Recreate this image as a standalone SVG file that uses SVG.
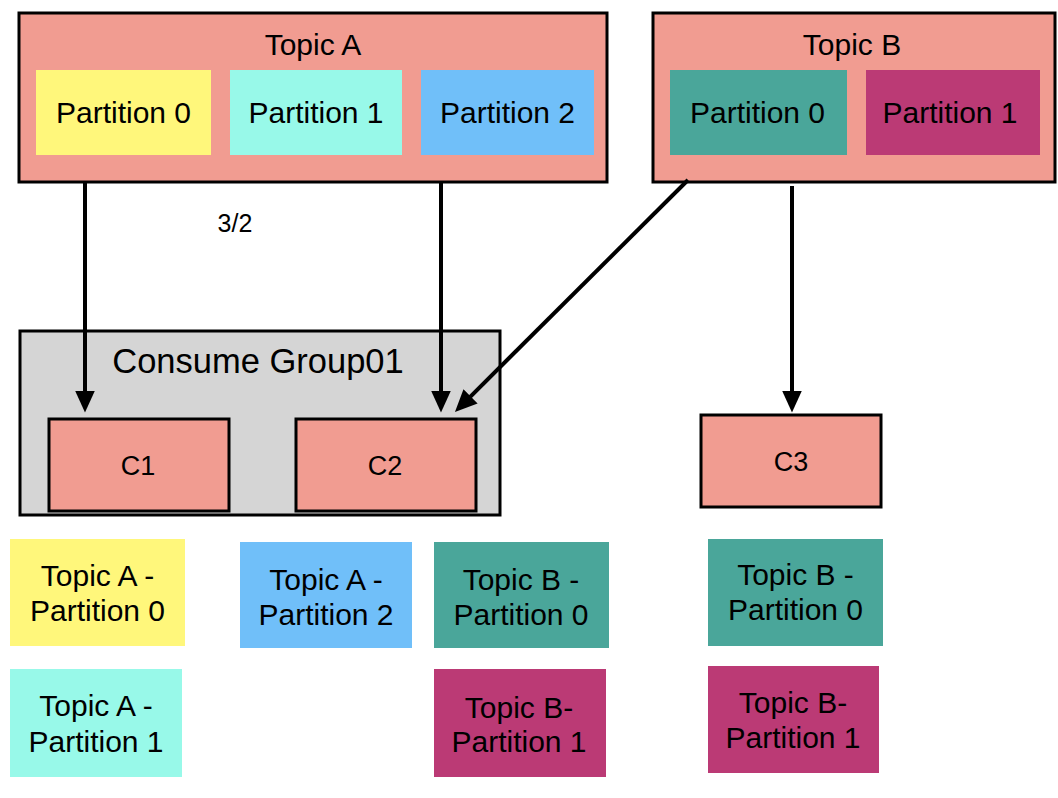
<svg xmlns="http://www.w3.org/2000/svg" width="1058" height="798" viewBox="0 0 1058 798">
<defs>
<style>
text{font-family:"Liberation Sans",Arial,Helvetica,sans-serif;fill:#000;text-anchor:middle}
.box{fill:#F19C91;stroke:#000;stroke-width:3}
.grp{fill:#D5D5D5;stroke:#000;stroke-width:3}
.t29{font-size:30px}
.t25{font-size:27px}
.yel{fill:#FFF77B}
.cyn{fill:#98F9E9}
.blu{fill:#70BFF9}
.tea{fill:#4AA69A}
.mag{fill:#BB3A75}
.conn{stroke:#000;stroke-width:4;fill:none;marker-end:url(#ah)}
</style>
<marker id="ah" markerUnits="userSpaceOnUse" markerWidth="24" markerHeight="22" refX="0.5" refY="10" orient="auto" viewBox="0 0 24 22">
<path d="M0,0 L22,10 L0,20 z" fill="#000"/>
</marker>
</defs>
<rect width="1058" height="798" fill="#fff"/>

<g id="topicA">
<rect class="box" x="19" y="13" width="588" height="169"/>
<text class="t29" x="313" y="54.5">Topic A</text>
</g>
<g id="topicA-p0">
<rect class="yel" x="36" y="70" width="175" height="85"/>
<text class="t29" x="123.5" y="123">Partition 0</text>
</g>
<g id="topicA-p1">
<rect class="cyn" x="230" y="70" width="172" height="85"/>
<text class="t29" x="316" y="123">Partition 1</text>
</g>
<g id="topicA-p2">
<rect class="blu" x="421" y="70" width="173" height="85"/>
<text class="t29" x="507.5" y="123">Partition 2</text>
</g>

<g id="topicB">
<rect class="box" x="653" y="13" width="402" height="169"/>
<text class="t29" x="852" y="54.5">Topic B</text>
</g>
<g id="topicB-p0">
<rect class="tea" x="670" y="70" width="177" height="85"/>
<text class="t29" x="757.5" y="123">Partition 0</text>
</g>
<g id="topicB-p1">
<rect class="mag" x="866" y="70" width="174" height="85"/>
<text class="t29" x="950" y="123">Partition 1</text>
</g>

<g id="label-3-2">
<text x="235" y="232" font-size="25">3/2</text>
</g>

<g id="group01">
<rect class="grp" x="20" y="331" width="480" height="184"/>
<text x="258" y="373" font-size="34.5">Consume Group01</text>
</g>
<g id="c1">
<rect class="box" x="49" y="419" width="180" height="92"/>
<text class="t25" x="138" y="475">C1</text>
</g>
<g id="c2">
<rect class="box" x="296" y="419" width="180" height="92"/>
<text class="t25" x="385" y="475">C2</text>
</g>
<g id="c3">
<rect class="box" x="701" y="415" width="180" height="92"/>
<text class="t25" x="791" y="471">C3</text>
</g>

<g id="c1-a-p0">
<rect class="yel" x="10" y="539" width="175" height="107"/>
<text class="t29" x="97.5" y="586">Topic A -</text>
<text class="t29" x="97.5" y="621">Partition 0</text>
</g>
<g id="c1-a-p1">
<rect class="cyn" x="10" y="669" width="172" height="108"/>
<text class="t29" x="96" y="716">Topic A -</text>
<text class="t29" x="96" y="752">Partition 1</text>
</g>
<g id="c2-a-p2">
<rect class="blu" x="240" y="542" width="172" height="106"/>
<text class="t29" x="326" y="590">Topic A -</text>
<text class="t29" x="326" y="625">Partition 2</text>
</g>
<g id="c2-b-p0">
<rect class="tea" x="434" y="542" width="175" height="106"/>
<text class="t29" x="521" y="590">Topic B -</text>
<text class="t29" x="521" y="625">Partition 0</text>
</g>
<g id="c2-b-p1">
<rect class="mag" x="434" y="669" width="172" height="108"/>
<text class="t29" x="519" y="718">Topic B-</text>
<text class="t29" x="519" y="752">Partition 1</text>
</g>
<g id="c3-b-p0">
<rect class="tea" x="708" y="539" width="175" height="107"/>
<text class="t29" x="795.5" y="585">Topic B -</text>
<text class="t29" x="795.5" y="620">Partition 0</text>
</g>
<g id="c3-b-p1">
<rect class="mag" x="708" y="666" width="171" height="107"/>
<text class="t29" x="793" y="713">Topic B-</text>
<text class="t29" x="793" y="748">Partition 1</text>
</g>

<g id="connectors">
<line class="conn" x1="85" y1="182" x2="85" y2="391"/>
<line class="conn" x1="441" y1="182" x2="441" y2="391"/>
<line class="conn" x1="688" y1="180" x2="470.2" y2="396.8"/>
<line class="conn" x1="792" y1="186" x2="792" y2="391"/>
</g>
</svg>
